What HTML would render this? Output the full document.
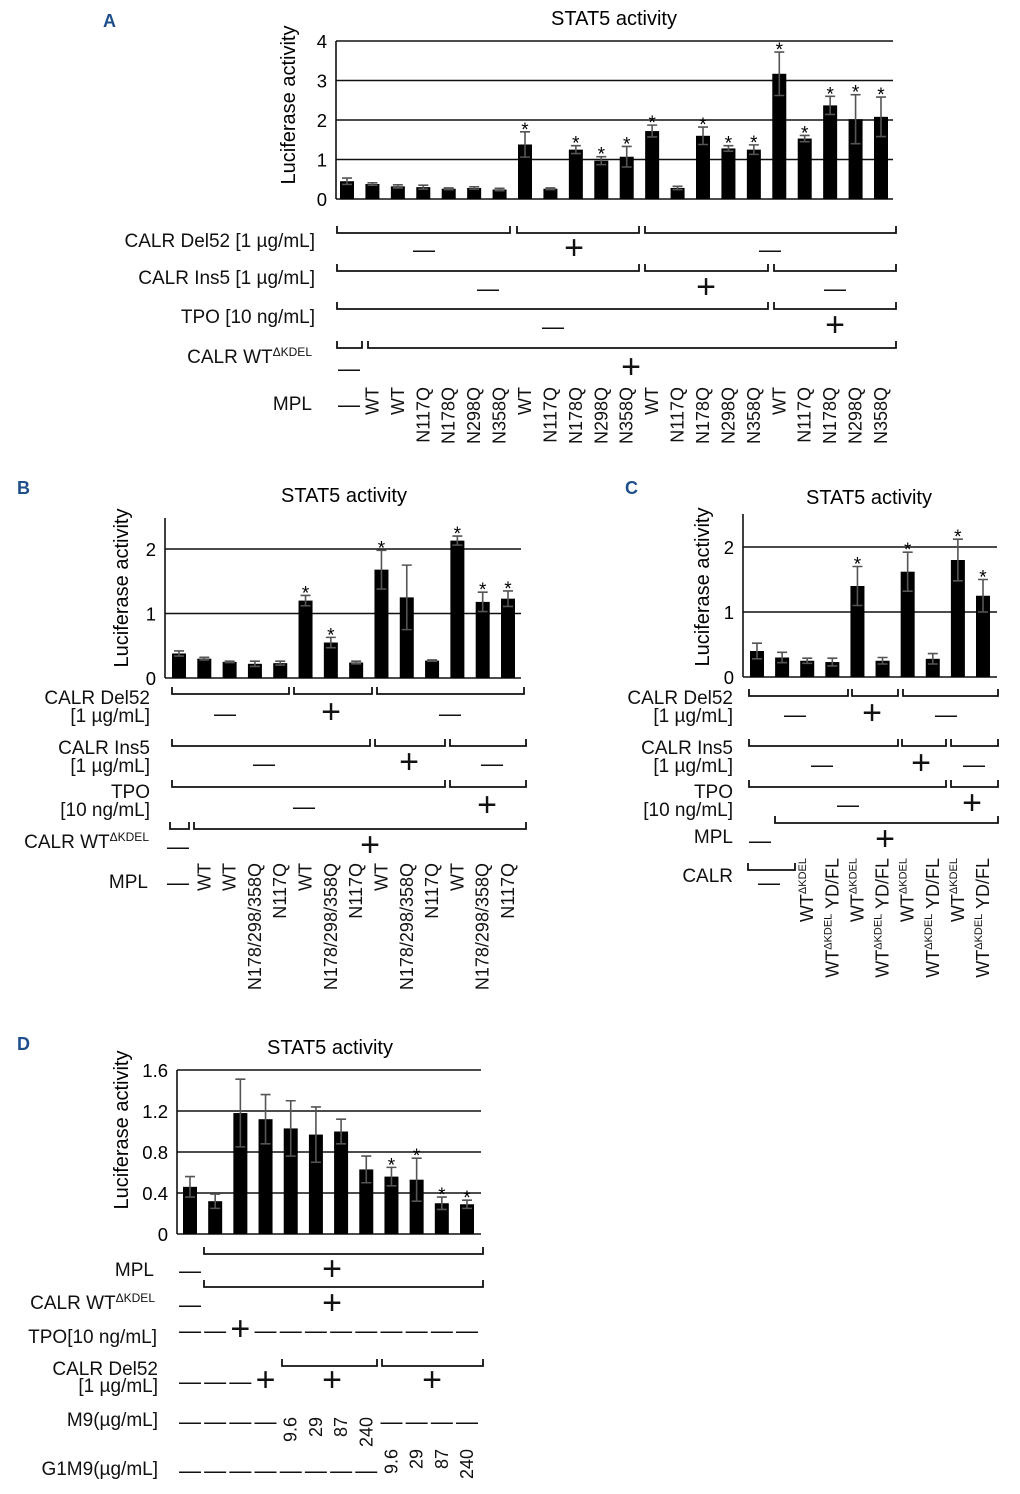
<!DOCTYPE html>
<html><head><meta charset="utf-8"><style>
body{margin:0;background:#fff}
svg{display:block;font-family:"Liberation Sans",Arial,sans-serif}
</style></head><body>
<svg id="fig" width="1020" height="1494" viewBox="0 0 1020 1494" xmlns="http://www.w3.org/2000/svg">
<g font-size="18" font-weight="bold" fill="#1f4e8c">
<text x="103" y="27">A</text>
<text x="17" y="494">B</text>
<text x="625" y="494">C</text>
<text x="17" y="1050">D</text>
</g>
<g id="charts"></g>
<g id="ann" font-size="19" fill="#111"></g>
</svg>
<script>
// ---------- data ----------
const aCategories=["WT","WT","N117Q","N178Q","N298Q","N358Q","WT","N117Q","N178Q","N298Q","N358Q","WT","N117Q","N178Q","N298Q","N358Q","WT","N117Q","N178Q","N298Q","N358Q"];
const aValues=[0.45,0.38,0.32,0.30,0.26,0.28,0.24,1.38,0.26,1.25,0.97,1.07,1.72,0.28,1.60,1.28,1.25,3.17,1.53,2.37,2.02,2.08];
const aErrors=[0.08,0.03,0.04,0.05,0.02,0.03,0.03,0.32,0.02,0.10,0.10,0.26,0.15,0.04,0.22,0.07,0.12,0.55,0.08,0.23,0.62,0.50];
const aStars=[0,0,0,0,0,0,0,1,0,1,1,1,1,0,1,1,1,1,1,1,1,1];
const aTicks=[0,1,2,3,4];

const bLabels=["−","WT","WT","N178/298/358Q","N117Q","WT","N178/298/358Q","N117Q","WT","N178/298/358Q","N117Q","WT","N178/298/358Q","N117Q"];
const bValues=[0.38,0.30,0.25,0.22,0.23,1.20,0.55,0.24,1.68,1.25,0.27,2.13,1.18,1.23];
const bErrors=[0.04,0.02,0.01,0.04,0.03,0.08,0.08,0.02,0.30,0.50,0.01,0.07,0.15,0.12];
const bStars=[0,0,0,0,0,1,1,0,1,0,0,1,1,1];
const bTicks=[0,1,2];

const cValues=[0.40,0.30,0.25,0.23,1.40,0.25,1.62,0.28,1.80,1.25];
const cErrors=[0.12,0.08,0.04,0.06,0.30,0.05,0.30,0.08,0.32,0.25];
const cStars=[0,0,0,0,1,0,1,0,1,1];
const cTicks=[0,1,2];

const dValues=[0.46,0.32,1.18,1.12,1.03,0.97,1.00,0.63,0.56,0.53,0.30,0.29];
const dErrors=[0.10,0.07,0.33,0.24,0.27,0.27,0.12,0.13,0.09,0.21,0.06,0.04];
const dStars=[0,0,0,0,0,0,0,0,1,1,1,1];
const dTicks=["0","0.4","0.8","1.2","1.6"];

const NS="http://www.w3.org/2000/svg";
const charts=document.getElementById('charts');
const ann=document.getElementById('ann');
function mk(tag,attrs,parent,txt){const e=document.createElementNS(NS,tag);for(const k in attrs)e.setAttribute(k,attrs[k]);if(txt!==undefined)e.textContent=txt;(parent||charts).appendChild(e);return e;}

function chart(o){
  const g=mk('g',{});
  
  
  const y=v=>o.y0-(v/o.ymax)*(o.y0-o.ytop);
  const x=i=>o.x1+(i)*(o.x2-o.x1)/(o.vals.length-1);
  o.ticks.forEach(t=>{const v=parseFloat(t);
    if(v>0){const l=mk('line',{x1:o.ax,x2:o.axR,y1:y(v),y2:y(v),stroke:'#111','stroke-width':1.6},g);
      
      }
    const tx=mk('text',{x:o.ax-9,y:y(v)+7,'text-anchor':'end','font-size':18.5},g,String(t));
    
    
  });
  const ya=mk('line',{x1:o.ax,x2:o.ax,y1:o.axTop,y2:o.y0,stroke:'#111','stroke-width':1.6},g);
  
  
  const xa=mk('line',{x1:o.ax,x2:o.axR,y1:o.y0,y2:o.y0,stroke:'#111','stroke-width':1.6},g);
  
  
  o.vals.forEach((v,i)=>{
    const cx=x(i);
    const r=mk('rect',{x:cx-o.bw/2,y:y(v),width:o.bw,height:o.y0-y(v),fill:'#000'},g);
    
    
    const e=o.errs[i];
    const eb=mk('path',{d:`M${cx} ${y(v+e)}V${y(v-e)}M${cx-5} ${y(v+e)}H${cx+5}M${cx-5} ${y(v-e)}H${cx+5}`,stroke:'#555','stroke-width':1.6,fill:'none'},g);
    
    
    if(o.stars[i]){const s=mk('text',{x:cx,y:y(v+e)+4,'text-anchor':'middle','font-size':19},g,'*');
      
      }
  });
  const t=mk('text',{x:o.tx,y:o.ty,'text-anchor':'middle','font-size':20},g,'STAT5 activity');
  
  
  const yt=mk('text',{transform:`translate(${o.ytx},${o.yty}) rotate(-90)`,'text-anchor':'middle','font-size':20},g,'Luciferase activity');
  
  
  return x;
}
const xA=chart({name:'chart-a',vals:aValues,errs:aErrors,stars:aStars,ticks:aTicks,ymax:4,y0:199,ytop:41,axTop:41,ax:336,axR:893,x1:347,x2:881,bw:14,tx:614,ty:25,ytx:295,yty:105});
const xB=chart({name:'chart-b',vals:bValues,errs:bErrors,stars:bStars,ticks:bTicks,ymax:2,y0:678,ytop:549,axTop:518,ax:165,axR:521,x1:179,x2:508,bw:14,tx:344,ty:502,ytx:128,yty:588});
const xC=chart({name:'chart-c',vals:cValues,errs:cErrors,stars:cStars,ticks:cTicks,ymax:2,y0:677,ytop:547,axTop:514,ax:743,axR:997,x1:757,x2:983,bw:14,tx:869,ty:504,ytx:709,yty:587});
const xD=chart({name:'chart-d',vals:dValues,errs:dErrors,stars:dStars,ticks:dTicks,ymax:1.6,y0:1234,ytop:1070,axTop:1070,ax:177,axR:481,x1:190,x2:467,bw:14,tx:330,ty:1054,ytx:128,yty:1130});

// ---------- annotations ----------
function br(x1,x2,y){const p=mk('path',{d:`M${x1} ${y-7}V${y}H${x2}V${y-7}`,stroke:'#111','stroke-width':1.8,fill:'none'},ann);
  
  }
function sg(s,x,y){const t=mk('text',{x:x,y:s=='+'?y+11:y+9,'text-anchor':'middle','font-size':s=='+'?34:22},ann,s=='+'?'+':'—');
  
  }
function lab(x,y,txt,sup,name){const t=mk('text',{x:x,y:y,'text-anchor':'end'},ann,txt);
  if(sup){mk('tspan',{'font-size':12,dy:-7},t,sup);}
  
  }
function rot(x,yTop,txt,sup,after,name){const t=mk('text',{transform:`translate(${x},${yTop}) rotate(-90)`,'text-anchor':'end','font-size':18},ann,txt);
  if(sup){mk('tspan',{'font-size':11,dy:-7},t,sup);}
  if(after){mk('tspan',{'font-size':18,dy:7},t,after);}
  
  }

// Panel A
lab(315,247,'CALR Del52 [1 µg/mL]',null,'a-del52-label');
lab(315,284,'CALR Ins5 [1 µg/mL]',null,'a-ins5-label');
lab(315,323,'TPO [10 ng/mL]',null,'a-tpo-label');
lab(312,363,'CALR WT','ΔKDEL','a-wt-kdel-label');
lab(312,410,'MPL',null,'a-mpl-label');
br(337,510,233);br(517,639,233);br(645,896,233);
sg('-',424,248);sg('+',574,248);sg('-',770,248);
br(337,639,271);br(645,768,271);br(774,896,271);
sg('-',488,287);sg('+',706,287);sg('-',835,287);
br(337,768,309);br(774,896,309);
sg('-',553,325);sg('+',835,325);
br(337,362,348);br(368,896,348);
sg('-',349,367);sg('+',631,367);
sg('-',349,403);
aCategories.forEach((c,i)=>{rot(xA(i+1)+6,387,c,null,null,'a-mpl-category');});

// Panel B
lab(150,704,'CALR Del52',null,'b-del52-label');lab(150,722,'[1 µg/mL]',null,'b-del52-conc');
lab(150,754,'CALR Ins5',null,'b-ins5-label');lab(150,772,'[1 µg/mL]',null,'b-ins5-conc');
lab(150,798,'TPO',null,'b-tpo-label');lab(150,816,'[10 ng/mL]',null,'b-tpo-conc');
lab(149,848,'CALR WT','ΔKDEL','b-wt-kdel-label');
lab(148,888,'MPL',null,'b-mpl-label');
br(172,289,694);br(294,372,694);br(377,524,694);
sg('-',225,712);sg('+',331,712);sg('-',450,712);
br(172,370,746);br(375,445,746);br(450,526,746);
sg('-',264,762);sg('+',409,762);sg('-',492,762);
br(172,445,787);br(450,526,787);
sg('-',304,805);sg('+',487,805);
br(170,189,829);br(194,526,829);
sg('-',178,845);sg('+',370,845);
sg('-',178,881);
bLabels.forEach((c,i)=>{if(i>0)rot(xB(i)+6,863,c,null,null,'b-mpl-category');});

// Panel C
lab(733,704,'CALR Del52',null,'c-del52-label');lab(733,722,'[1 µg/mL]',null,'c-del52-conc');
lab(733,754,'CALR Ins5',null,'c-ins5-label');lab(733,772,'[1 µg/mL]',null,'c-ins5-conc');
lab(733,798,'TPO',null,'c-tpo-label');lab(733,816,'[10 ng/mL]',null,'c-tpo-conc');
lab(733,843,'MPL',null,'c-mpl-label');
lab(733,882,'CALR',null,'c-calr-label');
br(749,848,696);br(852,898,696);br(903,998,696);
sg('-',795,713);sg('+',872,713);sg('-',946,713);
br(749,898,746);br(902,946,746);br(951,998,746);
sg('-',822,763);sg('+',921,763);sg('-',974,763);
br(749,946,787);br(951,998,787);
sg('-',848,803);sg('+',972,803);
br(775,998,823);
sg('-',760,839);sg('+',885,839);
br(748,795,870);
sg('-',769,881);
for(let i=2;i<10;i++){ if(i%2==0) rot(xC(i)+6,858,'WT','ΔKDEL',null,'c-calr-category'); else rot(xC(i)+6,858,'WT','ΔKDEL',' YD/FL','c-calr-category'); }

// Panel D
lab(154,1276,'MPL',null,'d-mpl-label');
lab(155,1309,'CALR WT','ΔKDEL','d-wt-kdel-label');
lab(157,1343,'TPO[10 ng/mL]',null,'d-tpo-label');
lab(158,1375,'CALR Del52',null,'d-del52-label');lab(158,1392,'[1 µg/mL]',null,'d-del52-conc');
lab(158,1426,'M9(µg/mL]',null,'d-m9-label');
lab(158,1475,'G1M9(µg/mL]',null,'d-g1m9-label');
br(204,483,1254);sg('-',190,1269);sg('+',332,1269);
br(204,483,1287);sg('-',190,1303);sg('+',332,1303);
const tpoRow=['-','-','+','-','-','-','-','-','-','-','-','-'];
tpoRow.forEach((s,i)=>sg(s,xD(i),1329));
['-','-','-','+'].forEach((s,i)=>sg(s,xD(i),1380));
br(282,377,1366);br(382,483,1366);sg('+',332,1380);sg('+',432,1380);
const conc=['9.6','29','87','240'];
for(let i=0;i<12;i++){ if(i>=4&&i<8) rot(xD(i)+6,1417,conc[i-4],null,null,'d-m9-conc'); else sg('-',xD(i),1420); }
for(let i=0;i<12;i++){ if(i>=8) rot(xD(i)+6,1449,conc[i-8],null,null,'d-g1m9-conc'); else sg('-',xD(i),1469); }
</script>
</body></html>
